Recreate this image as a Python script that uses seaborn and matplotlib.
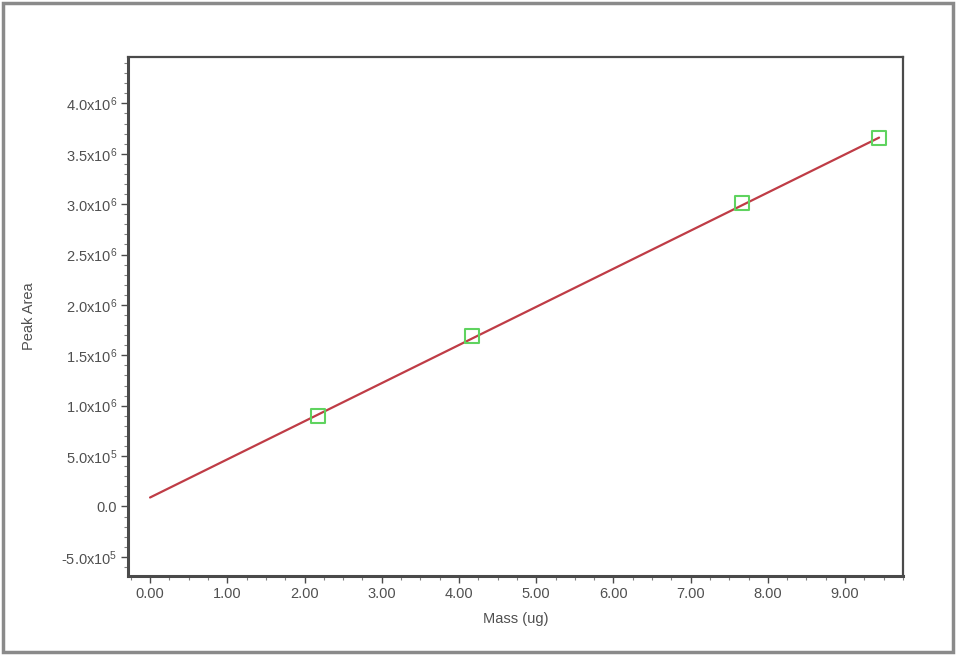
import matplotlib
matplotlib.use("Agg")
import matplotlib.pyplot as plt
import seaborn as sns
import pandas as pd
from matplotlib.patches import Rectangle
from matplotlib.ticker import MultipleLocator

# calibration points
mass = [2.18, 4.17, 7.67, 9.44]
peak_area = [0.90e6, 1.69e6, 3.01e6, 3.66e6]

# fitted line end points
fit_mass = [0.0, 9.44]
fit_area = [0.089e6, 3.66e6]

x_ticks = [0, 1, 2, 3, 4, 5, 6, 7, 8, 9]
x_ticklabels = ["0.00", "1.00", "2.00", "3.00", "4.00", "5.00", "6.00", "7.00", "8.00", "9.00"]
y_ticks = [-5e5, 0, 5e5, 1.0e6, 1.5e6, 2.0e6, 2.5e6, 3.0e6, 3.5e6, 4.0e6]
y_ticklabels = [r"-5.0x10$^{5}$", "0.0", r"5.0x10$^{5}$", r"1.0x10$^{6}$", r"1.5x10$^{6}$",
                r"2.0x10$^{6}$", r"2.5x10$^{6}$", r"3.0x10$^{6}$", r"3.5x10$^{6}$", r"4.0x10$^{6}$"]

sns.set_style("ticks")
plt.rcParams['font.family'] = ['Liberation Sans', 'DejaVu Sans']
plt.rcParams['mathtext.fontset'] = 'custom'
plt.rcParams['mathtext.rm'] = 'Liberation Sans'
plt.rcParams['mathtext.it'] = 'Liberation Sans'

text_col = "#505050"
spine_col = "#4a4a4a"

fig = plt.figure(figsize=(9.57, 6.55), dpi=100)
fig.patches.append(Rectangle((0.003, 0.004), 0.993, 0.992, transform=fig.transFigure,
                             fill=False, edgecolor="#8a8a8a", linewidth=2.5))
ax = fig.add_axes([0.1338, 0.1206, 0.8098, 0.7924])

pts = pd.DataFrame({"Mass": mass, "Area": peak_area})
fit = pd.DataFrame({"Mass": fit_mass, "Area": fit_area})

sns.lineplot(data=fit, x="Mass", y="Area", ax=ax, color="#bf3c46", linewidth=1.6)
sns.scatterplot(data=pts, x="Mass", y="Area", ax=ax, marker="s", s=100,
                facecolor="none", edgecolor="#5fd35f", linewidth=1.5, zorder=3)

ax.set_xlim(-0.285, 9.75)
ax.set_ylim(-6.9e5, 4.46e6)
ax.set_xticks(x_ticks)
ax.set_xticklabels(x_ticklabels)
ax.set_yticks(y_ticks)
ax.set_yticklabels(y_ticklabels)
ax.xaxis.set_minor_locator(MultipleLocator(0.25))
ax.yaxis.set_minor_locator(MultipleLocator(1e5))

ax.tick_params(axis="both", which="major", direction="out", length=5, width=1,
               colors=spine_col, labelcolor=text_col, labelsize=10.5, pad=3)
ax.tick_params(axis="both", which="minor", direction="out", length=3, width=0.8,
               colors="#808080")

for side in ["left", "bottom", "top", "right"]:
    ax.spines[side].set_visible(True)
    ax.spines[side].set_color(spine_col)
ax.spines["left"].set_linewidth(2.2)
ax.spines["bottom"].set_linewidth(2.2)
ax.spines["top"].set_linewidth(1.6)
ax.spines["right"].set_linewidth(1.6)

ax.set_xlabel("Mass (ug)", color=text_col, fontsize=10.5, labelpad=8)
ax.set_ylabel("Peak Area", color=text_col, fontsize=10.5, labelpad=18)

fig.savefig("out.png", dpi=100)
